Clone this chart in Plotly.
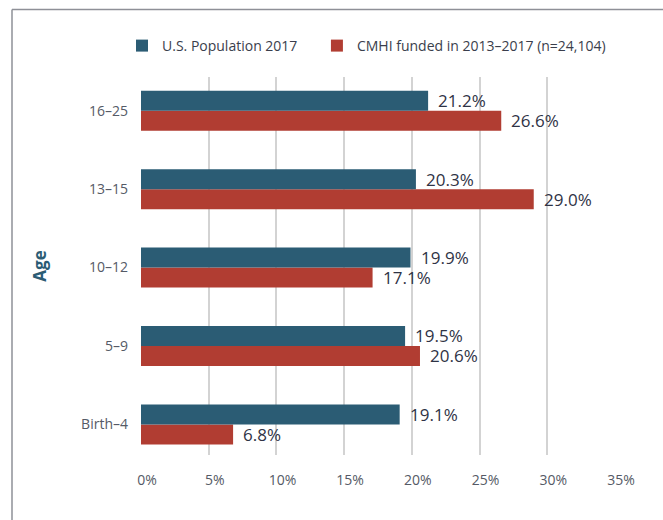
import plotly.graph_objects as go

categories = ["Birth–4", "5–9", "10–12", "13–15", "16–25"]
us_pop_2017 = [19.1, 19.5, 19.9, 20.3, 21.2]
cmhi_funded = [6.8, 20.6, 17.1, 29.0, 26.6]
x_ticks = [0, 5, 10, 15, 20, 25, 30, 35]
x_tick_labels = ["0%", "5%", "10%", "15%", "20%", "25%", "30%", "35%"]

BLUE = "#2b5c74"
RED = "#b13d32"
FONT = "Open Sans"

fig = go.Figure()
fig.add_trace(go.Bar(
    y=categories, x=cmhi_funded, orientation="h", name="CMHI funded in 2013–2017 (n=24,104)",
    marker=dict(color=RED, line=dict(width=0)), hoverinfo="skip",
))
fig.add_trace(go.Bar(
    y=categories, x=us_pop_2017, orientation="h", name="U.S. Population 2017\u00a0\u00a0\u00a0\u00a0",
    marker=dict(color=BLUE, line=dict(width=0)), hoverinfo="skip",
))

annotations = []
for cat, v in zip(categories, us_pop_2017):
    annotations.append(dict(x=v, y=cat, xref="x", yref="y", text=f"{v:.1f}%", showarrow=False,
                            xanchor="left", yanchor="middle", xshift=8, yshift=10,
                            font=dict(family=FONT, size=17, color="#2f3345")))
for cat, v in zip(categories, cmhi_funded):
    annotations.append(dict(x=v, y=cat, xref="x", yref="y", text=f"{v:.1f}%", showarrow=False,
                            xanchor="left", yanchor="middle", xshift=8, yshift=-10,
                            font=dict(family=FONT, size=17, color="#2f3345")))

# frame lines around the chart
L, T, W, H = 141, 77, 474, 378
def px_x(p):
    return (p - L) / W
def px_y(p):
    return (T + H - p) / H

shapes = [
    dict(type="line", xref="paper", yref="paper", x0=px_x(12), x1=px_x(12), y0=px_y(9.5), y1=px_y(540),
         line=dict(color="#8e9097", width=1.5)),
    dict(type="line", xref="paper", yref="paper", x0=px_x(12), x1=px_x(700), y0=px_y(9.5), y1=px_y(9.5),
         line=dict(color="#8e9097", width=1.5)),
]

fig.update_layout(
    width=663, height=520,
    margin=dict(l=L, r=663 - L - W, t=T, b=520 - T - H),
    paper_bgcolor="white", plot_bgcolor="white",
    barmode="group", bargap=0.49, bargroupgap=0,
    font=dict(family=FONT, color="#555a66"),
    showlegend=True,
    legend=dict(orientation="h", x=px_x(122), y=px_y(46), xanchor="left", yanchor="middle",
                traceorder="reversed", font=dict(family=FONT, size=14, color="#3a3e4c"),
                itemclick=False, itemdoubleclick=False),
    xaxis=dict(range=[0, 35], tickvals=x_ticks, ticktext=x_tick_labels, showgrid=True,
               gridcolor="#d3d3d3", gridwidth=1.5, zeroline=False, showline=False,
               ticks="", tickfont=dict(family=FONT, size=14, color="#555a66"),
               ticklabelshift=6, ticklabelstandoff=15, fixedrange=True),
    yaxis=dict(categoryorder="array", categoryarray=categories, range=[-0.39, 4.43],
               showgrid=False, zeroline=False, showline=False, ticks="",
               tickfont=dict(family=FONT, size=14, color="#555a66"), ticklabelstandoff=12,
               title=dict(text="<b>Age</b>", font=dict(family=FONT, size=17, color=BLUE), standoff=30),
               fixedrange=True),
    annotations=annotations,
    shapes=shapes,
)

fig.write_html("out.html", config={"displayModeBar": False},
               post_script="document.body.style.margin='0';document.body.style.overflow='hidden';")
